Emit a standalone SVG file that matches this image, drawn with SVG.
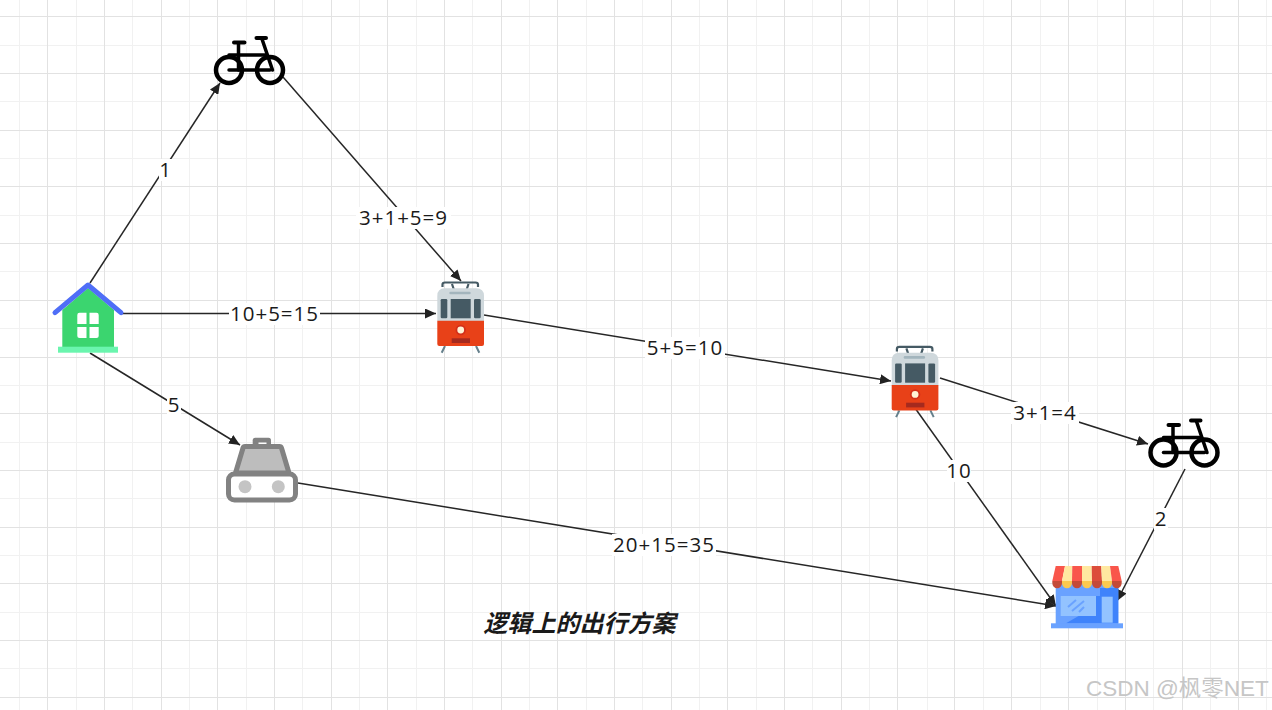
<svg xmlns="http://www.w3.org/2000/svg" width="1272" height="710" viewBox="0 0 1272 710">
<style>
.lbl{font-family:"Open Sans","Noto Sans",sans-serif;font-size:20.500px;letter-spacing:1px;fill:#1a1a1a;text-anchor:middle;dominant-baseline:central}
.bg{fill:#fff}
.c{fill:none;stroke:#262626;stroke-width:1.5;marker-end:url(#ah)}
</style>
<defs>
<marker id="ah" markerUnits="userSpaceOnUse" markerWidth="12" markerHeight="10" refX="11" refY="5" orient="auto"><path d="M0 0L11 5L0 10z" fill="#222"/></marker>
<g id="bike" fill="none" stroke="#000" stroke-linecap="round" stroke-linejoin="round">
<circle cx="229" cy="70" r="13" stroke-width="4.500"/>
<circle cx="270" cy="70" r="13" stroke-width="4.500"/>
<path d="M229 70H270" stroke-width="3.500"/>
<path d="M229 55H267" stroke-width="3.500"/>
<path d="M238.500 43V70" stroke-width="3.500"/>
<path d="M262 39L272.500 70" stroke-width="3.500"/>
<path d="M234 42.500H244.500M256.500 38H266" stroke-width="4"/>
</g>
<g id="tram">
<path d="M441.700 352.700L445 346M479.300 352.700L476 346" stroke="#65808c" stroke-width="2" fill="none"/>
<path d="M442.500 287V284.500Q442.500 282.500 445 282.500H475.500Q478 282.500 478 284.500V287M452 284L454 290M468.500 284L466.500 290" stroke="#455a64" stroke-width="2.200" fill="none"/>
<path d="M437.300 321V296Q437.300 288.300 445 288.300H476Q484 288.300 484 296V321z" fill="#cfd8dc"/>
<path d="M437.300 320.700H484V344Q484 346 482 346H439.300Q437.300 346 437.300 344z" fill="#e84118"/>
<rect x="449.300" y="291.700" width="21.400" height="2.600" rx="1.300" fill="#a3b5bd"/>
<rect x="440.700" y="299" width="6.600" height="19.300" rx="1.200" fill="#455a64"/>
<rect x="450.700" y="299" width="20" height="19.300" fill="#455a64"/>
<rect x="474" y="299" width="6.700" height="19.300" rx="1.200" fill="#455a64"/>
<circle cx="460.700" cy="330" r="5.200" fill="#d32f1a"/>
<circle cx="460.700" cy="330" r="3.400" fill="#fff3d6"/>
<rect x="451.700" y="338.300" width="18.300" height="4.700" fill="#a52a1e"/>
</g>
</defs>
<rect width="1272" height="710" fill="#fff"/>
<g id="grid" fill="none" shape-rendering="crispEdges">
<path stroke="#f1f1f1" d="M19.500 0V710M76.500 0V710M132.500 0V710M189.500 0V710M246.500 0V710M302.500 0V710M359.500 0V710M416.500 0V710M472.500 0V710M529.500 0V710M586.500 0V710M642.500 0V710M699.500 0V710M756.500 0V710M812.500 0V710M869.500 0V710M927.500 0V710M983.500 0V710M1040.500 0V710M1097.500 0V710M1153.500 0V710M1210.500 0V710M1266.500 0V710M0 45.500H1272M0 101.500H1272M0 158.500H1272M0 215.500H1272M0 271.500H1272M0 328.500H1272M0 385.500H1272M0 442.500H1272M0 498.500H1272M0 555.500H1272M0 612.500H1272M0 668.500H1272"/>
<path stroke="#e2e2e2" d="M47.500 0V710M104.500 0V710M161.500 0V710M217.500 0V710M274.500 0V710M331.500 0V710M387.500 0V710M444.500 0V710M501.500 0V710M557.500 0V710M614.500 0V710M671.500 0V710M727.500 0V710M784.500 0V710M841.500 0V710M897.500 0V710M954.500 0V710M1011.500 0V710M1068.500 0V710M1125.500 0V710M1182.500 0V710M1238.500 0V710M0 16.500H1272M0 73.500H1272M0 130.500H1272M0 186.500H1272M0 243.500H1272M0 300.500H1272M0 357.500H1272M0 413.500H1272M0 470.500H1272M0 527.500H1272M0 583.500H1272M0 640.500H1272M0 697.500H1272"/>
</g>
<g id="connectors">
<path class="c" d="M90 283L220 83"/>
<path class="c" d="M283 77L461 281"/>
<path class="c" d="M121 313.500H436"/>
<path class="c" d="M90 353L240 445"/>
<path class="c" d="M484 315L891 381"/>
<path class="c" d="M298 483L1056 606"/>
<path class="c" d="M940 378L1148 444"/>
<path class="c" d="M915 408L1056 606"/>
<path class="c" d="M1185 469L1117 601"/>
<g id="labels" transform="translate(0 -1)">
<rect class="bg" x="159" y="160" width="13" height="22"/><text class="lbl" x="165.500" y="170">1</text>
<rect class="bg" x="356" y="208" width="95" height="22"/><text class="lbl" x="403.500" y="218">3+1+5=9</text>
<rect class="bg" x="229" y="304" width="91" height="22"/><text class="lbl" x="274.500" y="314">10+5=15</text>
<rect class="bg" x="167" y="395" width="14" height="22"/><text class="lbl" x="174" y="405">5</text>
<rect class="bg" x="645" y="338" width="80" height="22"/><text class="lbl" x="685" y="348">5+5=10</text>
<rect class="bg" x="612" y="535" width="104" height="22"/><text class="lbl" x="664" y="545">20+15=35</text>
<rect class="bg" x="1011" y="403" width="68" height="22"/><text class="lbl" x="1045" y="413">3+1=4</text>
<rect class="bg" x="947" y="461" width="24" height="22"/><text class="lbl" x="959" y="471">10</text>
<rect class="bg" x="1154" y="509" width="14" height="22"/><text class="lbl" x="1161" y="519">2</text>
</g>
</g>
<g id="house">
<path d="M62.300 310L88 288L114 310V347H62.300z" fill="#3bd56f"/>
<rect x="58" y="346.700" width="60" height="6" fill="#6af5ae"/>
<path d="M55 312.700L88 285L121 312.700" fill="none" stroke="#4f6ef7" stroke-width="5" stroke-linecap="round" stroke-linejoin="round"/>
<path d="M77.300 324V315Q77.300 312.700 79.500 312.700H86.500V324zM89.500 312.700H96.500Q98.700 312.700 98.700 315V324H89.500zM77.300 327H86.500V338H79.500Q77.300 338 77.300 336zM89.500 327H98.700V336Q98.700 338 96.500 338H89.500z" fill="#fff"/>
</g>
<g id="bike-1"><use href="#bike"/></g>
<g id="tram-1"><use href="#tram"/></g>
<g id="taxi">
<rect x="252.700" y="437.700" width="18.300" height="10" rx="2.500" fill="#828282"/>
<rect x="258.500" y="442.500" width="8" height="1.500" fill="#fff"/>
<path d="M245 446.500H279.500Q281 446.500 281.500 448L289 473H235.500L243 448Q243.500 446.500 245 446.500z" fill="#bdbdbd" stroke="#828282" stroke-width="5" stroke-linejoin="round"/>
<rect x="228.500" y="474" width="67" height="26" rx="6" fill="#fff" stroke="#828282" stroke-width="5"/>
<circle cx="245" cy="486.700" r="6.500" fill="#c4c4c4"/>
<circle cx="278.300" cy="486.700" r="6.500" fill="#c4c4c4"/>
</g>
<g id="tram-2"><use href="#tram" transform="translate(454.400 64.400)"/></g>
<g id="bike-2"><use href="#bike" transform="translate(934.500 382.500)"/></g>
<g id="store">
<rect x="1055.700" y="580" width="62.600" height="44" fill="#6aa2ff"/>
<path d="M1066 623.300L1096 606V596H1100V588H1118.300V623.300z" fill="#3f83fb"/>
<rect x="1060.700" y="596" width="35.300" height="20" fill="#93c3ff"/>
<rect x="1101.700" y="596.700" width="11" height="26" fill="#93c3ff"/>
<path d="M1068 607L1076 600M1072 611L1084 601M1079 612L1084 607" stroke="#6aa2ff" stroke-width="2" fill="none"/>
<rect x="1051" y="623.300" width="72" height="5" fill="#6aa2ff"/>
<path d="M1055.700 566H1065L1062 581H1052.300z" fill="#f9564b"/>
<path d="M1065 566H1072.300L1072 581H1062z" fill="#ffe8a0"/>
<path d="M1072.300 566H1082V581H1072z" fill="#f9564b"/>
<path d="M1082 566H1091.700L1092 581H1082z" fill="#ffe8a0"/>
<path d="M1091.700 566H1101.300L1102 581H1092z" fill="#dc4d3b"/>
<path d="M1101.300 566H1110L1112 581H1102z" fill="#ffe8a0"/>
<path d="M1110 566H1118.300L1121.700 581H1112z" fill="#f9564b"/>
<path d="M1052.300 581H1062V583A4.850 5.300 0 0 1 1052.300 583z" fill="#c44a38"/>
<path d="M1062 581H1072V583A5 5.300 0 0 1 1062 583z" fill="#fcc94f"/>
<path d="M1072 581H1082V583A5 5.300 0 0 1 1072 583z" fill="#c44a38"/>
<path d="M1082 581H1092V583A5 5.300 0 0 1 1082 583z" fill="#fcc94f"/>
<path d="M1092 581H1102V583A5 5.300 0 0 1 1092 583z" fill="#c44a38"/>
<path d="M1102 581H1112V583A5 5.300 0 0 1 1102 583z" fill="#fcc94f"/>
<path d="M1112 581H1121.700V583A4.850 5.300 0 0 1 1112 583z" fill="#c44a38"/>
</g>
<text id="title" x="579.500" y="621" font-family="'Noto Sans CJK SC',sans-serif" font-size="24" font-weight="700" font-style="italic" fill="#1a1a1a" text-anchor="middle" dominant-baseline="central">逻辑上的出行方案</text>
<text id="watermark" x="1086" y="696" font-family="'Liberation Sans','Noto Sans CJK SC',sans-serif" font-size="22.500" fill="#c6c6c6">CSDN @枫零NET</text>
</svg>
